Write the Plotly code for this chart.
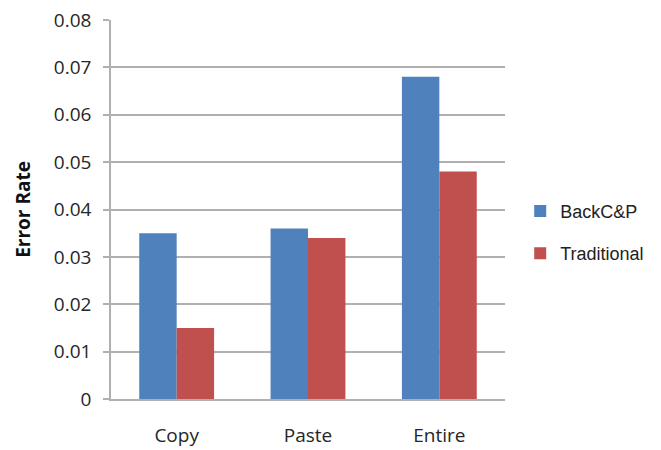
import plotly.graph_objects as go

categories = ["Copy", "Paste", "Entire"]
backcp = [0.035, 0.036, 0.068]
traditional = [0.015, 0.034, 0.048]
y_ticks = [0, 0.01, 0.02, 0.03, 0.04, 0.05, 0.06, 0.07, 0.08]
y_tick_labels = ["0", "0.01", "0.02", "0.03", "0.04", "0.05", "0.06", "0.07", "0.08"]

grid_color = "#b0b0b0"
label_font = dict(family="Open Sans, Lato, sans-serif", size=19, color="#262626")

fig = go.Figure()
fig.add_trace(go.Bar(name="BackC&P", x=categories, y=backcp,
                     marker=dict(color="#4F81BD", line=dict(width=0)),
                     legendgroup="a"))
fig.add_trace(go.Bar(name="Traditional", x=categories, y=traditional,
                     marker=dict(color="#C0504D", line=dict(width=0)),
                     legendgroup="b"))

fig.update_layout(
    width=661, height=450,
    margin=dict(l=111, r=156, t=20, b=51, autoexpand=False),
    paper_bgcolor="white", plot_bgcolor="white",
    barmode="group", bargap=0.43, bargroupgap=0,
    legend=dict(xref="container", yref="container", x=0.787, y=0.484,
                xanchor="left", yanchor="middle",
                font=dict(family="Arial, Liberation Sans, sans-serif", size=18, color="#222222"),
                traceorder="grouped", tracegroupgap=16, itemwidth=30),
    xaxis=dict(showgrid=False, showline=True, linecolor=grid_color, linewidth=1.5,
               ticks="", tickfont=label_font, ticklabelstandoff=18, automargin=False),
    yaxis=dict(range=[0, 0.08], tickvals=y_ticks, ticktext=y_tick_labels,
               showgrid=True, gridcolor=grid_color, gridwidth=1.5,
               showline=True, linecolor=grid_color, linewidth=1.5,
               ticks="outside", ticklen=6, tickcolor=grid_color, tickwidth=1.5,
               tickfont=label_font, ticklabelstandoff=8, zeroline=False, automargin=False,
               title=dict(text="<b>Error Rate</b>", standoff=18,
                          font=dict(family="Open Sans, Lato, sans-serif", size=19, color="#111111"))),
)

fig.write_html("out.html")
